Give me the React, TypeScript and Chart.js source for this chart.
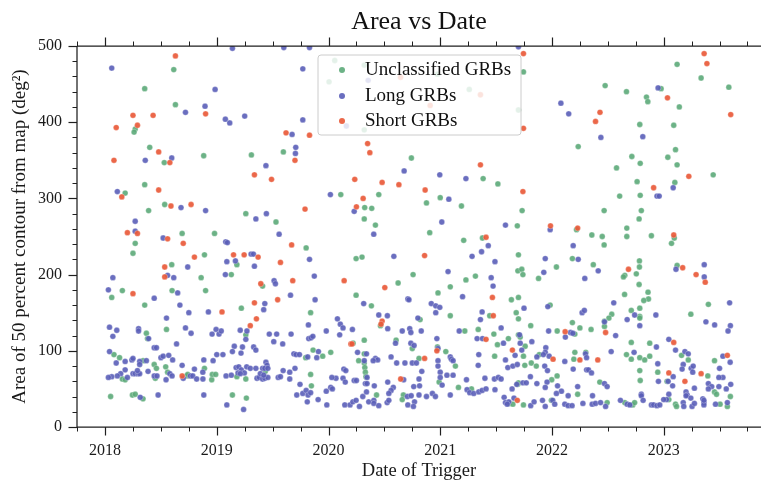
import React, { useEffect, useRef } from "react";
import { Chart, registerables } from "chart.js";

Chart.register(...registerables);

const FONT = "'Liberation Serif', 'Times New Roman', serif";

const chartTitle = "Area vs Date";
const xAxisTitle = "Date of Trigger";
const yAxisTitle = "Area of 50 percent contour from map (deg²)";
const seriesNames = ["Unclassified GRBs", "Long GRBs", "Short GRBs"];
const seriesColors = ["rgba(92,170,121,0.9)", "rgba(90,94,184,0.9)", "rgba(233,90,58,0.92)"];

const X_MIN = 2017.749;
const X_MAX = 2023.871;
const xTickYears = [2018, 2019, 2020, 2021, 2022, 2023];
const xMinorStep = 0.25;
const Y_MIN = 0;
const Y_MAX = 500;
const yTickValues = [0, 100, 200, 300, 400, 500];
const yMinorStep = 20;

// [decimal year, area deg²]
const unclassified: [number, number][] = [
  [2018.355,444],[2018.27,391],[2018.26,387],[2018.40,367],[2018.355,318],[2018.18,307],[2018.39,284],[2018.27,241],[2018.25,228],[2018.155,179],[2018.06,170],[2018.355,160],[2018.37,123],[2018.38,116],[2018.08,95],[2018.13,91],[2018.34,87],[2018.44,82],[2018.46,77],[2018.155,63],[2018.18,62],[2018.45,64],[2018.05,40],[2018.245,42],[2018.27,43],[2018.34,37],
  [2018.615,469],[2018.63,423],[2018.883,356],[2018.53,347],[2018.534,292],[2019.26,280],[2018.69,254],[2018.98,254],[2018.89,226],[2019.18,213],[2018.597,213],[2019.13,200],[2018.86,196],[2018.60,179],[2018.90,179],[2019.22,156],[2018.55,128],[2019.26,121],[2018.543,79],[2018.89,77],[2018.56,72],[2018.73,67],[2018.74,69],[2018.955,62],[2018.96,69],[2018.99,69],[2019.18,66],[2019.26,63],[2019.14,42],[2019.265,38],
  [2020.005,453],[2019.31,357],[2019.596,361],[2019.53,269],[2019.80,235],[2019.41,185],[2019.84,150],[2019.796,91],[2019.862,101],[2019.948,93],[2020.02,98],[2019.434,73],[2019.84,69],[2019.847,54],
  [2020.056,481],[2020.32,475],[2020.32,390],[2020.742,353],[2020.11,305],[2020.45,305],[2020.324,288],[2020.387,287],[2020.32,273],[2020.42,265],[2020.247,221],[2020.30,223],[2020.757,200],[2020.623,189],[2020.247,173],[2020.384,159],[2020.465,133],[2020.22,110],[2020.32,114],[2020.605,114],[2020.75,103],[2020.32,96],[2020.32,84],[2020.325,78],[2020.33,72],[2020.335,66],[2020.27,87],[2020.43,42],[2020.67,42],[2020.66,36],
  [2020.975,463],[2021.26,443],[2021.384,326],[2021.516,319],[2020.877,294],[2021.0,301],[2021.19,290],[2020.906,255],[2021.378,248],[2021.21,245],[2021.23,193],[2021.315,198],[2021.09,184],[2020.98,176],[2021.09,146],[2021.443,146],[2020.82,141],[2021.22,126],[2021.34,128],[2020.975,105],[2021.05,99],[2021.48,122],[2021.512,108],[2020.81,90],[2021.136,80],[2021.487,93],[2020.99,59],[2021.28,50],[2021.163,52],
  [2021.745,466],[2021.70,416],[2022.235,368],[2021.733,284],[2021.69,264],[2022.22,259],[2021.70,226],[2022.183,221],[2021.695,205],[2021.73,207],[2021.74,200],[2022.04,210],[2021.88,195],[2021.637,167],[2021.70,170],[2021.68,150],[2021.70,142],[2021.984,160],[2022.183,137],[2022.25,130],[2021.81,133],[2021.70,121],[2021.716,118],[2022.047,126],[2022.205,122],[2021.61,116],[2021.76,106],[2021.745,93],[2021.886,95],[2022.205,98],[2022.196,89],[2022.303,98],[2021.757,81],[2021.815,84],[2021.86,80],[2021.694,56],[2021.70,58],[2021.998,62],[2022.046,67],[2022.23,43],[2021.617,31],[2021.65,30],[2021.745,29],[2021.995,35],
  [2022.476,448],[2022.667,440],[2022.977,444],[2022.846,433],[2022.858,427],[2022.786,397],[2022.715,355],[2022.79,346],[2023.037,354],[2022.578,340],[2022.762,322],[2022.606,303],[2022.79,304],[2022.467,284],[2022.80,284],[2022.78,273],[2022.67,261],[2022.67,250],[2022.357,252],[2022.45,250],[2022.467,239],[2022.89,251],[2023.07,241],[2022.37,213],[2022.652,199],[2022.64,197],[2022.755,201],[2022.783,218],[2022.783,210],[2022.78,187],[2022.86,177],[2022.864,168],[2022.822,166],[2022.65,174],[2022.535,148],[2022.51,143],[2022.47,139],[2022.47,132],[2022.71,153],[2022.786,156],[2022.786,145],[2022.786,143],[2022.35,128],[2022.71,111],[2022.875,110],[2022.667,95],[2022.71,89],[2022.786,91],[2022.83,88],[2022.875,93],[2022.786,74],[2022.947,72],[2022.428,59],[2023.03,60],[2022.79,61],[2023.046,36],[2022.494,32],[2022.652,32],[2022.723,29],[2022.74,32],
  [2023.12,476],[2023.335,458],[2023.583,446],[2023.14,420],[2023.09,396],[2023.106,364],[2023.12,344],[2023.443,331],[2023.10,321],[2023.095,248],[2023.12,212],[2023.40,161],[2023.243,148],[2023.16,94],[2023.22,88],[2023.455,87],[2023.395,67],[2023.455,46],[2023.473,43],[2023.597,40],[2023.106,30],[2023.115,27],[2023.505,30],[2023.57,27],
];

const longGRBs: [number, number][] = [
  [2018.06,471],[2018.36,350],[2018.11,309],[2018.27,270],[2018.27,257],[2018.07,196],[2018.03,180],[2018.44,169],[2018.04,131],[2018.105,127],[2018.07,119],[2018.30,129],[2018.30,126],[2018.39,116],[2018.44,104],[2018.46,104],[2018.04,99],[2018.18,86],[2018.10,84],[2018.24,88],[2018.25,90],[2018.31,86],[2018.37,87],[2018.31,82],[2018.50,91],[2018.14,70],[2018.11,67],[2018.06,66],[2018.03,65],[2018.18,75],[2018.20,65],[2018.25,70],[2018.27,70],[2018.295,70],[2018.31,70],[2018.29,74],[2018.385,73],[2018.44,67],[2018.465,67],[2018.315,39],[2018.475,42],
  [2019.14,497],[2018.985,443],[2018.895,421],[2018.72,413],[2019.077,404],[2019.116,399],[2019.25,408],[2018.597,353],[2018.68,288],[2018.90,284],[2018.52,248],[2019.08,243],[2019.095,242],[2019.09,217],[2019.167,218],[2018.74,210],[2018.56,199],[2018.615,196],[2019.077,200],[2018.65,176],[2018.67,160],[2018.75,150],[2018.925,151],[2018.55,143],[2018.72,130],[2018.77,123],[2018.994,128],[2018.958,122],[2019.02,122],[2019.04,126],[2019.21,127],[2019.27,126],[2019.26,115],[2018.64,109],[2019.157,106],[2019.23,105],[2019.14,99],[2019.217,97],[2018.52,93],[2018.57,94],[2018.605,88],[2019.0,95],[2019.055,95],[2018.884,88],[2018.967,87],[2018.69,81],[2018.80,76],[2018.875,72],[2018.546,62],[2018.58,70],[2018.60,67],[2018.70,64],[2018.763,67],[2018.785,67],[2018.82,63],[2018.876,63],[2019.083,67],[2019.13,68],[2019.173,78],[2019.197,79],[2019.22,75],[2019.247,71],[2019.268,79],[2019.19,71],[2019.21,70],[2018.884,42],[2019.09,29],[2019.24,23],
  [2019.60,498],[2019.83,498],[2019.77,470],[2019.77,403],[2019.674,384],[2019.707,367],[2019.704,359],[2019.44,343],[2020.017,305],[2019.35,273],[2019.444,280],[2019.558,253],[2019.307,227],[2019.328,227],[2019.83,220],[2019.337,211],[2019.873,198],[2019.513,192],[2019.525,188],[2019.66,173],[2019.43,162],[2019.42,154],[2019.88,167],[2019.82,134],[2019.98,126],[2019.47,122],[2019.536,122],[2019.665,122],[2019.51,112],[2019.59,109],[2019.823,116],[2019.844,117],[2019.86,119],[2019.33,105],[2019.35,101],[2019.69,96],[2019.71,95],[2019.74,95],[2019.814,92],[2019.91,99],[2019.895,91],[2019.44,85],[2019.45,81],[2019.30,77],[2019.35,77],[2019.41,77],[2019.43,77],[2019.457,77],[2019.36,64],[2019.38,65],[2019.41,63],[2019.43,64],[2019.457,65],[2019.39,70],[2019.42,68],[2019.55,65],[2019.57,66],[2019.594,74],[2019.653,72],[2019.653,63],[2019.70,77],[2019.745,56],[2019.716,42],[2019.77,44],[2019.80,48],[2019.817,42],[2019.81,33],[2019.84,45],[2019.907,36],[2019.98,47],[2019.985,29],[2020.02,52],[2020.035,50],
  [2020.355,455],[2020.16,395],[2020.677,336],[2020.23,283],[2020.405,253],[2020.585,224],[2020.315,162],[2020.71,168],[2020.72,167],[2020.08,142],[2020.106,135],[2020.13,130],[2020.10,121],[2020.214,128],[2020.45,147],[2020.527,146],[2020.53,129],[2020.66,126],[2020.727,129],[2020.737,124],[2020.60,110],[2020.737,110],[2020.766,107],[2020.26,98],[2020.34,96],[2020.32,87],[2020.42,90],[2020.44,88],[2020.40,87],[2020.56,92],[2020.61,84],[2020.684,84],[2020.75,84],[2020.787,84],[2020.067,64],[2020.03,65],[2020.137,76],[2020.155,74],[2020.13,64],[2020.15,59],[2020.23,61],[2020.25,61],[2020.33,57],[2020.345,57],[2020.345,65],[2020.41,54],[2020.53,59],[2020.58,52],[2020.56,48],[2020.54,44],[2020.673,62],[2020.763,53],[2020.706,40],[2020.74,41],[2020.71,29],[2020.146,29],[2020.193,29],[2020.218,33],[2020.247,35],[2020.277,27],[2020.307,40],[2020.34,46],[2020.36,33],[2020.406,35],[2020.406,31],[2020.45,28],[2020.525,32],[2020.54,35],[2020.77,33],[2020.76,27],
  [2020.996,331],[2021.23,326],[2021.077,299],[2021.014,269],[2021.43,238],[2021.37,230],[2021.285,224],[2021.49,217],[2021.07,204],[2021.456,196],[2021.473,185],[2021.20,171],[2020.92,162],[2020.96,159],[2020.996,157],[2020.96,150],[2021.375,151],[2021.36,141],[2021.545,130],[2020.80,143],[2020.83,126],[2021.17,126],[2020.97,116],[2020.98,103],[2021.33,116],[2021.378,116],[2020.835,73],[2020.81,63],[2020.98,87],[2020.98,80],[2021.09,92],[2021.10,89],[2021.115,87],[2021.345,95],[2021.34,81],[2021.06,68],[2021.115,68],[2021.0,72],[2021.0,65],[2021.235,62],[2021.40,64],[2021.485,63],[2021.52,65],[2021.545,63],[2021.017,55],[2020.815,54],[2020.81,42],[2020.877,40],[2020.93,44],[2020.957,40],[2021.09,42],[2021.24,49],[2021.264,45],[2021.30,44],[2021.345,46],[2021.375,48],[2021.41,50],[2021.49,49],
  [2021.70,499],[2022.08,425],[2022.15,411],[2021.584,265],[2021.984,259],[2022.19,238],[2021.94,221],[2022.235,220],[2021.927,203],[2022.294,195],[2021.75,156],[2021.963,158],[2022.27,150],[2022.29,153],[2021.71,121],[2021.716,110],[2021.97,126],[2022.12,118],[2022.166,124],[2022.187,123],[2021.566,110],[2021.82,112],[2021.73,101],[2021.945,104],[2021.94,98],[2021.67,94],[2021.584,88],[2021.865,92],[2021.923,95],[2021.975,93],[2022.115,86],[2022.30,96],[2022.31,91],[2021.605,78],[2021.65,80],[2021.69,82],[2021.935,80],[2021.96,74],[2022.19,76],[2022.31,75],[2021.643,50],[2021.685,56],[2021.74,58],[2021.77,58],[2021.807,66],[2021.865,57],[2021.956,59],[2021.94,52],[2022.05,54],[2022.085,47],[2022.04,44],[2022.145,41],[2022.23,53],[2021.572,39],[2021.584,32],[2021.614,33],[2021.60,30],[2021.66,38],[2021.81,28],[2021.84,33],[2021.915,35],[2021.94,27],[2022.007,35],[2022.025,30],[2022.115,30],[2022.145,28],[2022.18,28],[2022.277,31],
  [2022.95,445],[2022.438,380],[2022.813,381],[2022.94,303],[2022.96,303],[2023.085,314],[2022.414,205],[2022.553,163],[2022.47,138],[2022.673,141],[2022.74,147],[2022.786,133],[2022.93,147],[2022.57,120],[2022.935,105],[2023.046,115],[2022.53,99],[2022.735,98],[2022.327,75],[2022.354,71],[2022.947,83],[2022.953,60],[2023.04,60],[2022.47,57],[2022.494,53],[2022.363,41],[2022.80,43],[2022.80,41],[2023.046,43],[2023.025,36],[2023.0,36],[2022.36,30],[2022.39,31],[2022.435,32],[2022.48,27],[2022.613,35],[2022.673,30],[2022.697,29],[2022.816,35],[2022.89,29],[2022.91,29],[2022.94,28],[2022.965,29],
  [2023.11,207],[2023.363,213],[2023.363,197],[2023.59,163],[2023.378,138],[2023.456,134],[2023.597,133],[2023.576,126],[2023.106,101],[2023.19,99],[2023.22,96],[2023.175,82],[2023.165,76],[2023.246,77],[2023.264,80],[2023.26,72],[2023.53,93],[2023.595,85],[2023.50,77],[2023.275,51],[2023.20,46],[2023.21,42],[2023.243,38],[2023.20,41],[2023.40,57],[2023.43,53],[2023.40,50],[2023.494,53],[2023.53,65],[2023.494,65],[2023.56,50],[2023.60,56],[2023.175,32],[2023.18,27],[2023.254,27],[2023.275,31],[2023.35,37],[2023.36,32],[2023.36,29],[2023.36,35],[2023.464,30],[2023.57,32],[2023.085,66],[2023.08,54],
];

const shortGRBs: [number, number][] = [
  [2018.25,409],[2018.43,409],[2018.10,393],[2018.29,396],[2018.48,361],[2018.08,350],[2018.15,302],[2018.48,311],[2018.20,255],[2018.29,254],[2018.25,175],
  [2018.63,487],[2018.90,411],[2018.58,347],[2018.59,290],[2018.77,292],[2018.56,247],[2018.70,241],[2018.80,223],[2019.15,226],[2019.245,226],[2018.534,210],[2018.534,197],[2019.047,151],[2018.69,67],
  [2019.62,386],[2019.83,383],[2019.70,350],[2019.337,331],[2019.49,325],[2019.79,286],[2019.67,239],[2019.37,223],[2019.57,216],[2019.394,188],[2019.68,192],[2019.337,163],[2019.545,167],[2019.355,142],[2019.30,133],
  [2020.645,459],[2020.35,372],[2020.37,360],[2020.235,325],[2020.48,321],[2020.63,318],[2020.31,300],[2020.25,289],[2020.14,192],[2020.504,183],[2020.48,139],[2020.47,135],[2020.20,109],[2020.21,109],[2020.646,63],
  [2021.36,436],[2020.91,422],[2021.36,344],[2020.865,311],[2021.41,249],[2020.86,225],[2021.467,170],[2021.475,146],[2020.97,100],[2021.41,115],[2020.86,90],
  [2021.745,490],[2021.745,392],[2021.74,309],[2021.987,264],[2022.23,261],[2022.118,125],[2021.646,101],[2022.01,89],[2022.25,88],[2021.69,35],
  [2023.034,432],[2022.43,413],[2022.39,401],[2022.91,314],[2023.09,252],[2022.685,207],[2022.48,124],[2023.09,111],[2022.41,88],[2023.046,71],
  [2023.362,490],[2023.387,477],[2023.60,410],[2023.225,329],[2023.17,209],[2023.29,200],[2023.372,190],[2023.57,94],[2023.19,60],[2023.335,70],
];

const seriesData = [unclassified, longGRBs, shortGRBs];

const decorPlugin = {
  id: "decor",
  afterDatasetsDraw(chart: any) {
    const { ctx, chartArea: a, scales } = chart;
    const xs = scales.x;
    const ys = scales.y;
    ctx.save();
    ctx.strokeStyle = "#1f1f1f";
    // spines
    ctx.lineWidth = 1.25;
    ctx.beginPath();
    ctx.moveTo(a.left, a.top);
    ctx.lineTo(a.left, a.bottom);
    ctx.lineTo(a.right, a.bottom);
    ctx.moveTo(a.left, a.top);
    ctx.lineTo(a.right, a.top);
    ctx.stroke();
    // x ticks (bottom & top)
    const xStart = Math.ceil(X_MIN / xMinorStep) * xMinorStep;
    for (let v = xStart; v <= X_MAX + 1e-9; v += xMinorStep) {
      const major = xTickYears.some((t) => Math.abs(t - v) < 1e-6);
      const len = major ? 8.5 : 4.5;
      const px = Math.round(xs.getPixelForValue(v)) + 0.5;
      ctx.lineWidth = major ? 1.2 : 1;
      ctx.beginPath();
      ctx.moveTo(px, a.bottom);
      ctx.lineTo(px, a.bottom + len);
      ctx.moveTo(px, a.top);
      ctx.lineTo(px, a.top - len);
      ctx.stroke();
    }
    // y ticks
    for (let v = Y_MIN; v <= Y_MAX + 1e-9; v += yMinorStep) {
      const major = yTickValues.some((t) => Math.abs(t - v) < 1e-6);
      const len = major ? 8.5 : 4.5;
      const py = Math.round(ys.getPixelForValue(v)) + 0.5;
      ctx.lineWidth = major ? 1.2 : 1;
      ctx.beginPath();
      ctx.moveTo(a.left, py);
      ctx.lineTo(a.left - len, py);
      ctx.stroke();
    }
    // title
    ctx.fillStyle = "#111";
    ctx.font = `26px ${FONT}`;
    ctx.textAlign = "center";
    ctx.textBaseline = "alphabetic";
    ctx.fillText(chartTitle, (a.left + a.right) / 2, 28.5);

    // legend
    const bx = 318, by = 55, bw = 203, bh = 80, r = 3;
    ctx.beginPath();
    ctx.moveTo(bx + r, by);
    ctx.lineTo(bx + bw - r, by);
    ctx.arcTo(bx + bw, by, bx + bw, by + r, r);
    ctx.lineTo(bx + bw, by + bh - r);
    ctx.arcTo(bx + bw, by + bh, bx + bw - r, by + bh, r);
    ctx.lineTo(bx + r, by + bh);
    ctx.arcTo(bx, by + bh, bx, by + bh - r, r);
    ctx.lineTo(bx, by + r);
    ctx.arcTo(bx, by, bx + r, by, r);
    ctx.closePath();
    ctx.fillStyle = "rgba(255,255,255,0.82)";
    ctx.fill();
    ctx.strokeStyle = "rgba(204,204,204,1)";
    ctx.lineWidth = 1;
    ctx.stroke();
    const rows = [70, 96, 121];
    ctx.font = `19px ${FONT}`;
    ctx.textAlign = "left";
    ctx.textBaseline = "middle";
    seriesNames.forEach((name, i) => {
      ctx.beginPath();
      ctx.arc(342, rows[i], 3, 0, Math.PI * 2);
      ctx.fillStyle = seriesColors[i];
      ctx.fill();
      ctx.fillStyle = "#111";
      ctx.fillText(name, 365, rows[i] + 0.5);
    });
    ctx.restore();
  },
};

export default function App() {
  const ref = useRef<HTMLCanvasElement | null>(null);
  useEffect(() => {
    if (!ref.current) return;
    const chart = new Chart(ref.current, {
      type: "scatter",
      data: {
        datasets: seriesData.map((pts, i) => ({
          label: seriesNames[i],
          data: pts.map(([x, y]) => ({ x, y })),
          backgroundColor: seriesColors[i],
          borderColor: "rgba(255,255,255,0.55)",
          borderWidth: 0.5,
          pointRadius: 2.9,
          pointHoverRadius: 2.9,
          order: 3 - i,
        })),
      },
      options: {
        responsive: false,
        devicePixelRatio: 1,
        animation: false,
        events: [],
        layout: { autoPadding: false, padding: { top: 46, left: 0, right: 0, bottom: 0 } },
        plugins: {
          legend: { display: false },
          tooltip: { enabled: false },
          title: { display: false },
        },
        scales: {
          x: {
            type: "linear",
            min: X_MIN,
            max: X_MAX,
            afterFit: (s: any) => {
              s.height = 56;
            },
            afterBuildTicks: (s: any) => {
              s.ticks = xTickYears.map((v) => ({ value: v }));
            },
            ticks: {
              callback: (v: any) => String(v),
              font: { family: FONT, size: 16 },
              color: "#1a1a1a",
              padding: 14,
              maxRotation: 0,
              autoSkip: false,
            },
            grid: { display: false, drawTicks: false },
            border: { display: false },
            title: {
              display: true,
              text: xAxisTitle,
              font: { family: FONT, size: 18.5 },
              color: "#1a1a1a",
              padding: { top: 0, bottom: 1 },
            },
          },
          y: {
            type: "linear",
            min: Y_MIN,
            max: Y_MAX,
            afterFit: (s: any) => {
              s.width = 77;
            },
            afterBuildTicks: (s: any) => {
              s.ticks = yTickValues.map((v) => ({ value: v }));
            },
            ticks: {
              callback: (v: any) => String(v),
              font: { family: FONT, size: 16 },
              color: "#1a1a1a",
              padding: 15,
            },
            grid: { display: false, drawTicks: false },
            border: { display: false },
            title: {
              display: true,
              text: yAxisTitle,
              font: { family: FONT, size: 19 },
              color: "#1a1a1a",
              padding: { top: 9, bottom: 0 },
            },
          },
        },
      },
      plugins: [decorPlugin],
    });
    return () => chart.destroy();
  }, []);
  return (
    <div style={{ position: "fixed", left: 0, top: 0, width: 761, height: 483, background: "#fff" }}>
      <canvas ref={ref} width={761} height={483} style={{ display: "block" }} />
    </div>
  );
}
